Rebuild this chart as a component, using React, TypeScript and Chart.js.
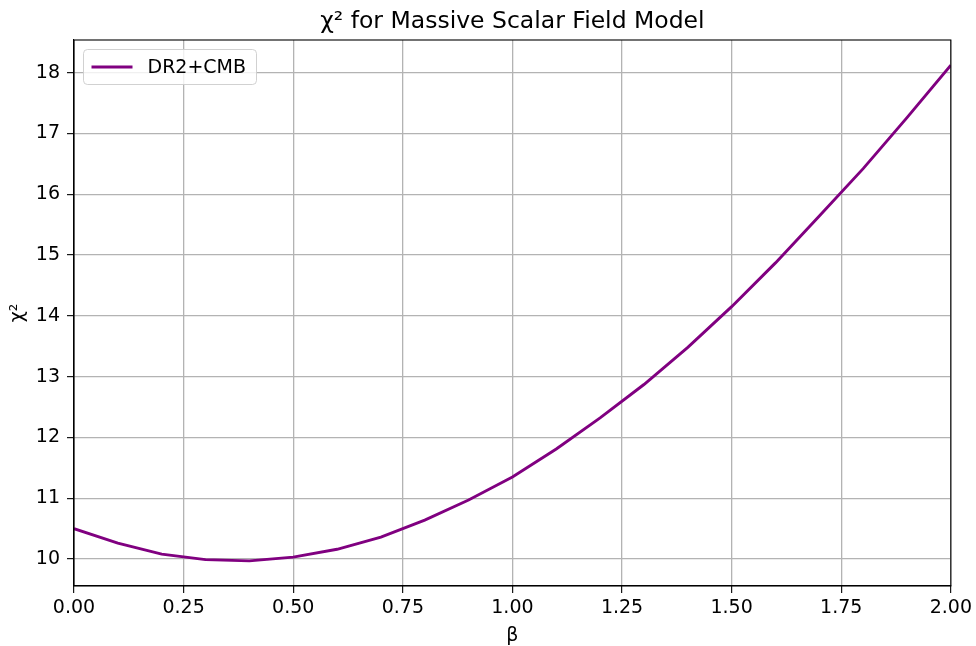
import React, { useEffect, useRef } from "react";
import { Chart, registerables } from "chart.js";

Chart.register(...registerables);

const betaValues = [0, 0.1, 0.2, 0.3, 0.4, 0.5, 0.6, 0.7, 0.8, 0.9, 1.0, 1.1, 1.2, 1.3, 1.4, 1.5, 1.6, 1.7, 1.8, 1.9, 2.0];
const chi2Values = [10.50, 10.26, 10.08, 9.99, 9.97, 10.03, 10.16, 10.36, 10.64, 10.97, 11.35, 11.81, 12.32, 12.87, 13.48, 14.15, 14.87, 15.64, 16.42, 17.26, 18.12];
const xTicks = [0, 0.25, 0.5, 0.75, 1.0, 1.25, 1.5, 1.75, 2.0];
const yTicks = [10, 11, 12, 13, 14, 15, 16, 17, 18];
const seriesLabel = "DR2+CMB";
const titleText = "χ² for Massive Scalar Field Model";
const xLabel = "β";
const yLabel = "χ²";

const FONT = "'DejaVu Sans', sans-serif";
const LINE_COLOR = "#800080";

const framePlugin = {
  id: "frameAndLegend",
  afterDraw(chart: any) {
    const { ctx, chartArea } = chart;
    ctx.save();
    // spines
    ctx.strokeStyle = "#000000";
    ctx.lineWidth = 1.1;
    ctx.strokeRect(chartArea.left, chartArea.top, chartArea.right - chartArea.left, chartArea.bottom - chartArea.top);
    // title centred over the plot area
    ctx.fillStyle = "#000000";
    ctx.font = `23.5px ${FONT}`;
    ctx.textAlign = "center";
    ctx.textBaseline = "alphabetic";
    ctx.fillText(titleText, (chartArea.left + chartArea.right) / 2, 28);
    // legend
    const bx = chartArea.left + 9.5;
    const by = chartArea.top + 9.5;
    const bw = 173;
    const bh = 35;
    const r = 4;
    ctx.beginPath();
    ctx.moveTo(bx + r, by);
    ctx.lineTo(bx + bw - r, by);
    ctx.arcTo(bx + bw, by, bx + bw, by + r, r);
    ctx.lineTo(bx + bw, by + bh - r);
    ctx.arcTo(bx + bw, by + bh, bx + bw - r, by + bh, r);
    ctx.lineTo(bx + r, by + bh);
    ctx.arcTo(bx, by + bh, bx, by + bh - r, r);
    ctx.lineTo(bx, by + r);
    ctx.arcTo(bx, by, bx + r, by, r);
    ctx.closePath();
    ctx.fillStyle = "rgba(255,255,255,0.8)";
    ctx.fill();
    ctx.strokeStyle = "rgba(204,204,204,0.9)";
    ctx.lineWidth = 1;
    ctx.stroke();
    const ly = by + bh / 2;
    ctx.strokeStyle = LINE_COLOR;
    ctx.lineWidth = 2.9;
    ctx.beginPath();
    ctx.moveTo(bx + 8, ly);
    ctx.lineTo(bx + 49, ly);
    ctx.stroke();
    ctx.fillStyle = "#000000";
    ctx.font = `19px ${FONT}`;
    ctx.textBaseline = "middle";
    ctx.textAlign = "left";
    ctx.fillText(seriesLabel, bx + 64, ly + 1);
    ctx.restore();
  },
};

export default function App() {
  const canvasRef = useRef<HTMLCanvasElement | null>(null);

  useEffect(() => {
    if (!canvasRef.current) return;
    const chart = new Chart(canvasRef.current, {
      type: "line",
      data: {
        datasets: [
          {
            label: seriesLabel,
            data: betaValues.map((b, i) => ({ x: b, y: chi2Values[i] })),
            borderColor: LINE_COLOR,
            backgroundColor: LINE_COLOR,
            borderWidth: 2.9,
            pointRadius: 0,
            tension: 0,
            fill: false,
          },
        ],
      },
      options: {
        responsive: false,
        animation: false,
        layout: { padding: { left: 0, right: 24, top: 40, bottom: 0 } },
        plugins: {
          legend: { display: false },
          tooltip: { enabled: false },
          title: { display: false },
        },
        scales: {
          x: {
            type: "linear",
            min: 0,
            max: 2,
            afterBuildTicks: (scale: any) => {
              scale.ticks = xTicks.map((v) => ({ value: v }));
            },
            afterFit: (scale: any) => {
              scale.height = 60;
            },
            ticks: {
              color: "#000000",
              font: { family: FONT, size: 19 },
              padding: 4,
              maxRotation: 0,
              autoSkip: false,
              callback: (v: any) => Number(v).toFixed(2),
            },
            grid: {
              color: "#b3b3b3",
              lineWidth: 1.3,
              drawTicks: true,
              tickLength: 7,
              tickColor: "#000000",
              tickWidth: 1.1,
            },
            border: { display: true, color: "#000000", width: 1.1 },
            title: {
              display: true,
              text: xLabel,
              color: "#000000",
              font: { family: FONT, size: 19 },
              padding: { top: 0, bottom: -1 },
            },
          },
          y: {
            type: "linear",
            min: 9.556,
            max: 18.536,
            afterBuildTicks: (scale: any) => {
              scale.ticks = yTicks.map((v) => ({ value: v }));
            },
            afterFit: (scale: any) => {
              scale.width = 74;
            },
            ticks: {
              color: "#000000",
              font: { family: FONT, size: 19 },
              padding: 7,
              autoSkip: false,
              callback: (v: any) => String(v),
            },
            grid: {
              color: "#b3b3b3",
              lineWidth: 1.3,
              drawTicks: true,
              tickLength: 7,
              tickColor: "#000000",
              tickWidth: 1.1,
            },
            border: { display: true, color: "#000000", width: 1.1 },
            title: {
              display: true,
              text: yLabel,
              color: "#000000",
              font: { family: FONT, size: 19 },
              padding: { top: 7, bottom: 0 },
            },
          },
        },
      },
      plugins: [framePlugin],
    } as any);
    return () => chart.destroy();
  }, []);

  return (
    <div style={{ position: "absolute", left: 0, top: 0, width: 976, height: 646, background: "#ffffff" }}>
      <canvas ref={canvasRef} width={976} height={646} style={{ display: "block" }} />
    </div>
  );
}
